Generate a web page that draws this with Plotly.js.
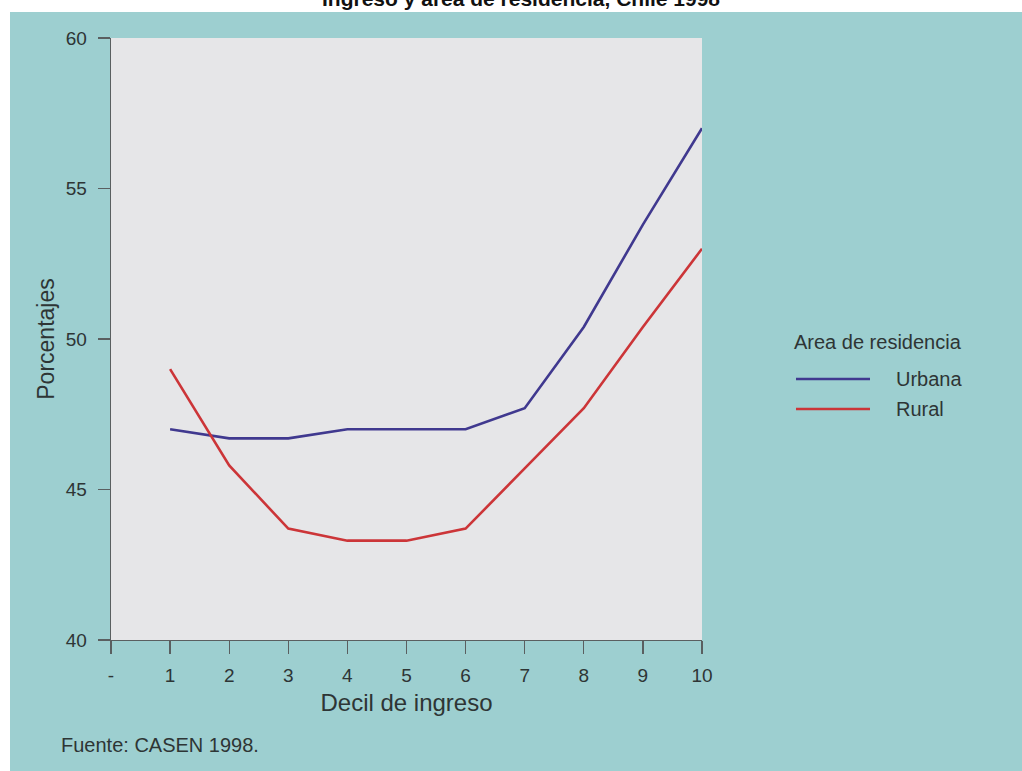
<!DOCTYPE html>
<html>
<head>
<meta charset="utf-8">
<script src="https://cdn.plot.ly/plotly-3.0.1.min.js"></script>
<style>html,body{margin:0;padding:0;background:#fff;}#chart{width:1022px;height:771px;}</style>
</head>
<body>
<div id="chart"></div>
<script>
const deciles = [1, 2, 3, 4, 5, 6, 7, 8, 9, 10];
const urbana = [47.0, 46.7, 46.7, 47.0, 47.0, 47.0, 47.7, 50.4, 53.8, 57.0];
const rural = [49.0, 45.8, 43.7, 43.3, 43.3, 43.7, 45.7, 47.7, 50.4, 53.0];
const seriesNames = ["Urbana", "Rural"];
const xTickVals = [0, 1, 2, 3, 4, 5, 6, 7, 8, 9, 10];
const xTickText = ["-", "1", "2", "3", "4", "5", "6", "7", "8", "9", "10"];
const yTickVals = [40, 45, 50, 55, 60];

const FONT = "Liberation Sans, Arial, sans-serif";
const BLUE = "#40398f";
const RED = "#cc3538";
const TEAL = "#9dcfd0";
const TXT = "#2e3535";

// plot area in pixels: left 111, right 702, top 38, bottom 640
const W = 1022, H = 771, L = 111, R = 320, T = 38, B = 131;
const pw = W - L - R, ph = H - T - B;
const px = x => (x - L) / pw;
const py = y => (H - B - y) / ph;

const traces = [
  {x: deciles, y: urbana, name: seriesNames[0], type: "scatter", mode: "lines",
   line: {color: BLUE, width: 2.6}, showlegend: false},
  {x: deciles, y: rural, name: seriesNames[1], type: "scatter", mode: "lines",
   line: {color: RED, width: 2.6}, showlegend: false}
];

const layout = {
  width: W, height: H,
  margin: {l: L, r: R, t: T, b: B, pad: 0},
  paper_bgcolor: "#ffffff",
  plot_bgcolor: "#e6e6e8",
  font: {family: FONT, color: TXT},
  xaxis: {
    range: [0, 10], tickvals: xTickVals, ticktext: xTickText,
    showgrid: false, zeroline: false, showline: true, linecolor: "#5a5f60", linewidth: 1.3,
    ticks: "outside", ticklen: 13, tickcolor: "#5a5f60", tickwidth: 1.3,
    ticklabelstandoff: 5,
    tickfont: {size: 19, color: TXT, family: FONT},
    title: {text: "Decil de ingreso", font: {size: 24, color: TXT, family: FONT}, standoff: 9}
  },
  yaxis: {
    range: [40, 60], tickvals: yTickVals,
    showgrid: false, zeroline: false, showline: true, linecolor: "#5a5f60", linewidth: 1.3,
    ticks: "outside", ticklen: 12, tickcolor: "#5a5f60", tickwidth: 1.3,
    ticklabelstandoff: 7,
    tickfont: {size: 19, color: TXT, family: FONT},
    title: {text: "Porcentajes", font: {size: 23, color: TXT, family: FONT}, standoff: 4}
  },
  shapes: [
    {type: "rect", xref: "paper", yref: "paper", layer: "below",
     x0: px(10), x1: px(1022), y0: py(771), y1: py(12),
     fillcolor: TEAL, line: {width: 0}},
    {type: "rect", xref: "paper", yref: "paper", layer: "below",
     x0: 0, x1: 1, y0: 0, y1: 1,
     fillcolor: "#e6e6e8", line: {width: 0}},
    {type: "line", xref: "paper", yref: "paper",
     x0: px(796), x1: px(870), y0: py(379), y1: py(379),
     line: {color: BLUE, width: 2.6}},
    {type: "line", xref: "paper", yref: "paper",
     x0: px(796), x1: px(870), y0: py(409), y1: py(409),
     line: {color: RED, width: 2.6}}
  ],
  annotations: [
    {text: "<b>Ingreso y área de residencia, Chile 1998</b>", xref: "paper", yref: "paper",
     x: px(521), y: py(12), xanchor: "center", yanchor: "bottom", showarrow: false,
     font: {size: 21, color: "#111", family: FONT}},
    {text: "Area de residencia", xref: "paper", yref: "paper",
     x: px(792), y: py(342), xanchor: "left", yanchor: "middle", showarrow: false,
     font: {size: 20, color: TXT, family: FONT}},
    {text: seriesNames[0], xref: "paper", yref: "paper",
     x: px(894), y: py(379), xanchor: "left", yanchor: "middle", showarrow: false,
     font: {size: 20, color: TXT, family: FONT}},
    {text: seriesNames[1], xref: "paper", yref: "paper",
     x: px(894), y: py(409), xanchor: "left", yanchor: "middle", showarrow: false,
     font: {size: 20, color: TXT, family: FONT}},
    {text: "Fuente: CASEN 1998.", xref: "paper", yref: "paper",
     x: px(59), y: py(745), xanchor: "left", yanchor: "middle", showarrow: false,
     font: {size: 20, color: TXT, family: FONT}}
  ]
};

Plotly.newPlot("chart", traces, layout, {displayModeBar: false, staticPlot: true});
</script>
</body>
</html>
